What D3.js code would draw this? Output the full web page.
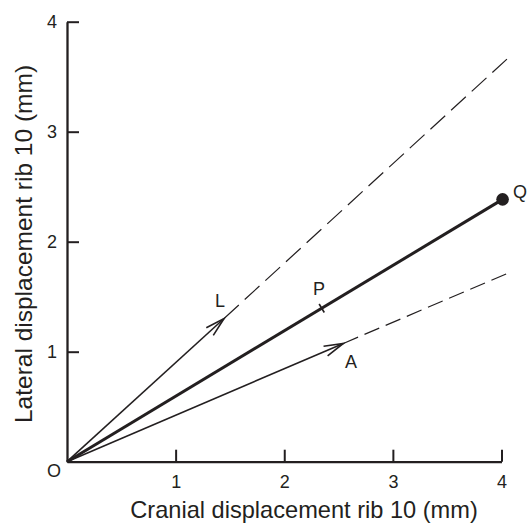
<!DOCTYPE html>
<html lang="en">
<head>
    <meta charset="UTF-8">
    <script src="https://d3js.org/d3.v7.min.js"></script>
    <style>
        body { margin: 0; background: white; }
        text { font-family: "Liberation Sans", Arial, sans-serif; fill: #231f20; }
    </style>
</head>
<body>
    <svg id="chart" width="530" height="523"></svg>
    <script>
        // ticks on both axes (mm)
        const xTicks = [1, 2, 3, 4];
        const yTicks = [1, 2, 3, 4];

        // displacement vectors: [cranial, lateral]
        const vecL = [1.446, 1.302];
        const vecLExt = [4.05, 3.66];
        const vecA = [2.544, 1.075];
        const vecAExt = [4.05, 1.71];
        const pointP = [2.345, 1.395];
        const pointQ = [4.01, 2.385];

        const ink = "#231f20";
        const width = 530, height = 523;

        const svg = d3.select("#chart")
            .attr("width", width)
            .attr("height", height);

        const x = d3.scaleLinear().domain([0, 4]).range([67, 501.5]);
        const y = d3.scaleLinear().domain([0, 4]).range([461.7, 21.7]);

        // axes, ticks pointing inward
        const gx = svg.append("g")
            .attr("transform", `translate(0,${y(0)})`)
            .call(d3.axisBottom(x).tickValues(xTicks).tickFormat(d3.format("d"))
                .tickSizeInner(-12).tickSizeOuter(0));
        gx.selectAll("text")
            .attr("y", 26.5).attr("dy", 0)
            .style("font-size", "18px");

        const gy = svg.append("g")
            .attr("transform", `translate(${x(0)},0)`)
            .call(d3.axisLeft(y).tickValues(yTicks).tickFormat(d3.format("d"))
                .tickSizeInner(-12).tickSizeOuter(0));
        gy.selectAll("text")
            .attr("x", -10)
            .style("font-size", "18px");

        svg.selectAll(".domain").attr("stroke", ink).attr("stroke-width", 2.3);
        svg.selectAll(".tick line").attr("stroke", ink).attr("stroke-width", 2);
        svg.selectAll(".tick text").attr("fill", ink);

        svg.append("text")
            .attr("x", 304)
            .attr("y", 518)
            .attr("text-anchor", "middle")
            .style("font-size", "23.6px")
            .text("Cranial displacement rib 10 (mm)");

        svg.append("text")
            .attr("transform", `translate(32,244) rotate(-90)`)
            .attr("text-anchor", "middle")
            .style("font-size", "24.5px")
            .text("Lateral displacement rib 10 (mm)");

        svg.append("text")
            .attr("x", 47).attr("y", 477)
            .style("font-size", "18px")
            .text("O");

        // dashed continuations
        function dashed(from, to, dash) {
            svg.append("line")
                .attr("x1", x(from[0])).attr("y1", y(from[1]))
                .attr("x2", x(to[0])).attr("y2", y(to[1]))
                .attr("stroke", ink)
                .attr("stroke-width", 1.2)
                .attr("stroke-dasharray", dash);
        }
        dashed(vecL, vecLExt, "20 8");
        dashed(vecA, vecAExt, "16 7");

        // arrows from origin with open heads
        function arrow(tip) {
            const x0 = x(0), y0 = y(0), x1 = x(tip[0]), y1 = y(tip[1]);
            svg.append("line")
                .attr("x1", x0).attr("y1", y0)
                .attr("x2", x1).attr("y2", y1)
                .attr("stroke", ink)
                .attr("stroke-width", 1.6);
            const ang = Math.atan2(y0 - y1, x0 - x1);
            const len = 20, spread = 15 * Math.PI / 180;
            const p = [ang - spread, ang + spread].map(a => [x1 + len * Math.cos(a), y1 + len * Math.sin(a)]);
            svg.append("path")
                .attr("d", `M${p[0][0]},${p[0][1]}L${x1},${y1}L${p[1][0]},${p[1][1]}`)
                .attr("fill", "none")
                .attr("stroke", ink)
                .attr("stroke-width", 1.6);
        }
        arrow(vecL);
        arrow(vecA);

        // resultant O -> Q
        svg.append("line")
            .attr("x1", x(0)).attr("y1", y(0))
            .attr("x2", x(pointQ[0])).attr("y2", y(pointQ[1]))
            .attr("stroke", ink)
            .attr("stroke-width", 3);

        svg.append("circle")
            .attr("cx", x(pointQ[0])).attr("cy", y(pointQ[1]))
            .attr("r", 6.3)
            .attr("fill", ink);

        // small cross tick at P
        const angQ = Math.atan2(y(pointQ[1]) - y(0), x(pointQ[0]) - x(0)) + Math.PI / 2;
        const px = x(pointP[0]), py = y(pointP[1]);
        svg.append("line")
            .attr("x1", px - 5 * Math.cos(angQ)).attr("y1", py - 5 * Math.sin(angQ))
            .attr("x2", px + 5 * Math.cos(angQ)).attr("y2", py + 5 * Math.sin(angQ))
            .attr("stroke", ink)
            .attr("stroke-width", 1.6);

        // point labels
        const labels = [
            { t: "L", x: 215, y: 307 },
            { t: "P", x: 313, y: 295 },
            { t: "A", x: 345, y: 368 },
            { t: "Q", x: 513, y: 198 }
        ];
        svg.selectAll(".plabel")
            .data(labels)
            .enter().append("text")
            .attr("class", "plabel")
            .attr("x", d => d.x)
            .attr("y", d => d.y)
            .style("font-size", "18px")
            .text(d => d.t);
    </script>
</body>
</html>
